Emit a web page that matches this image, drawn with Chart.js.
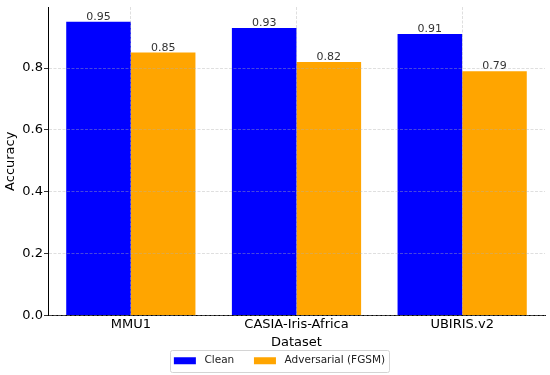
<!DOCTYPE html>
<html>
<head>
<meta charset="utf-8">
<script src="https://cdn.jsdelivr.net/npm/chart.js@4.4.1/dist/chart.umd.min.js"></script>
<style>
  html, body { margin: 0; padding: 0; background: #fff; }
  #wrap { width: 550px; height: 375px; }
</style>
</head>
<body>
<div id="wrap"><canvas id="accChart"></canvas></div>
<script>
const categories = ["MMU1", "CASIA-Iris-Africa", "UBIRIS.v2"];
const seriesNames = ["Clean", "Adversarial (FGSM)"];
const cleanAcc = [0.95, 0.93, 0.91];
const fgsmAcc = [0.85, 0.82, 0.79];
const yTicks = [0.0, 0.2, 0.4, 0.6, 0.8];

const FONT = "'DejaVu Sans', sans-serif";
const GRID = "rgba(176,176,176,0.5)";

/* ===== value labels on top of bars ===== */
const barLabels = {
  id: "barLabels",
  afterDatasetsDraw(chart) {
    const ctx = chart.ctx;
    ctx.save();
    ctx.font = "11px " + FONT;
    ctx.fillStyle = "#333";
    ctx.textAlign = "center";
    ctx.textBaseline = "alphabetic";
    chart.data.datasets.forEach((ds, i) => {
      chart.getDatasetMeta(i).data.forEach((bar, j) => {
        ctx.fillText(ds.data[j].toFixed(2), bar.x, bar.y - 2);
      });
    });
    ctx.restore();
  }
};

/* ===== legend: nudge right a bit and draw a frame round it ===== */
const legendFrame = {
  id: "legendFrame",
  afterLayout(chart) {
    chart.legend.left += 7;
    chart.legend.right += 7;
  },
  afterDraw(chart) {
    const boxes = chart.legend.legendHitBoxes;
    if (!boxes || !boxes.length) return;
    const left = Math.min(...boxes.map(b => b.left)) - 4;
    const right = Math.max(...boxes.map(b => b.left + b.width)) + 4;
    const mid = boxes[0].top + boxes[0].height / 2;
    const ctx = chart.ctx;
    ctx.save();
    ctx.strokeStyle = "#d4d4d4";
    ctx.lineWidth = 1;
    ctx.beginPath();
    ctx.roundRect(Math.round(left) + 0.5, Math.round(mid - 11) + 0.5, Math.round(right - left), 22, 2);
    ctx.stroke();
    ctx.restore();
  }
};

new Chart(document.getElementById("accChart"), {
  type: "bar",
  data: {
    labels: categories,
    datasets: [
      { label: seriesNames[0], data: cleanAcc, backgroundColor: "#0000ff" },
      { label: seriesNames[1], data: fgsmAcc, backgroundColor: "#ffa500" }
    ]
  },
  options: {
    responsive: true,
    maintainAspectRatio: false,
    animation: false,
    categoryPercentage: 0.78,
    barPercentage: 1.0,
    layout: { padding: { left: 0, right: 5, top: 7, bottom: -1 } },
    plugins: {
      tooltip: { enabled: false },
      legend: {
        position: "bottom",
        labels: {
          font: { family: FONT, size: 10.5 },
          color: "#222",
          boxWidth: 22,
          boxHeight: 7,
          padding: 3,
          generateLabels(chart) {
            const items = Chart.defaults.plugins.legend.labels.generateLabels(chart);
            items.forEach(it => { it.text = " " + it.text; });
            items[0].text += "     ";
            return items;
          }
        }
      }
    },
    scales: {
      x: {
        afterFit(scale) {
          scale.height = 37;
        },
        grid: {
          display: true,
          offset: false,
          z: 1,
          color: GRID,
          lineWidth: 0.8,
          drawTicks: false
        },
        border: { display: true, color: "#000", width: 1, dash: [3, 1.5], z: 1 },
        ticks: { font: { family: FONT, size: 13, lineHeight: 1 }, color: "#000", padding: 3 },
        title: {
          display: true,
          text: "Dataset",
          font: { family: FONT, size: 13 },
          color: "#000",
          padding: { top: 3, bottom: 2 }
        }
      },
      y: {
        min: 0,
        max: 0.9975,
        afterBuildTicks(scale) {
          scale.ticks = yTicks.map(v => ({ value: v }));
        },
        afterFit(scale) {
          scale.width = 48;
          scale.paddingTop = 0;
        },
        grid: {
          z: 1,
          color: GRID,
          lineWidth: 0.8,
          drawTicks: true,
          tickLength: 4,
          tickColor: "#000",
          tickBorderDash: []
        },
        border: { display: true, color: "#000", width: 1, dash: [3, 1.5], z: 1 },
        ticks: {
          font: { family: FONT, size: 13, lineHeight: 1 },
          color: "#000",
          padding: 1,
          callback: v => v.toFixed(1)
        },
        title: {
          display: true,
          text: "Accuracy",
          font: { family: FONT, size: 13 },
          color: "#000",
          padding: { top: 3, bottom: 1 }
        }
      }
    }
  },
  plugins: [barLabels, legendFrame]
});
</script>
</body>
</html>
